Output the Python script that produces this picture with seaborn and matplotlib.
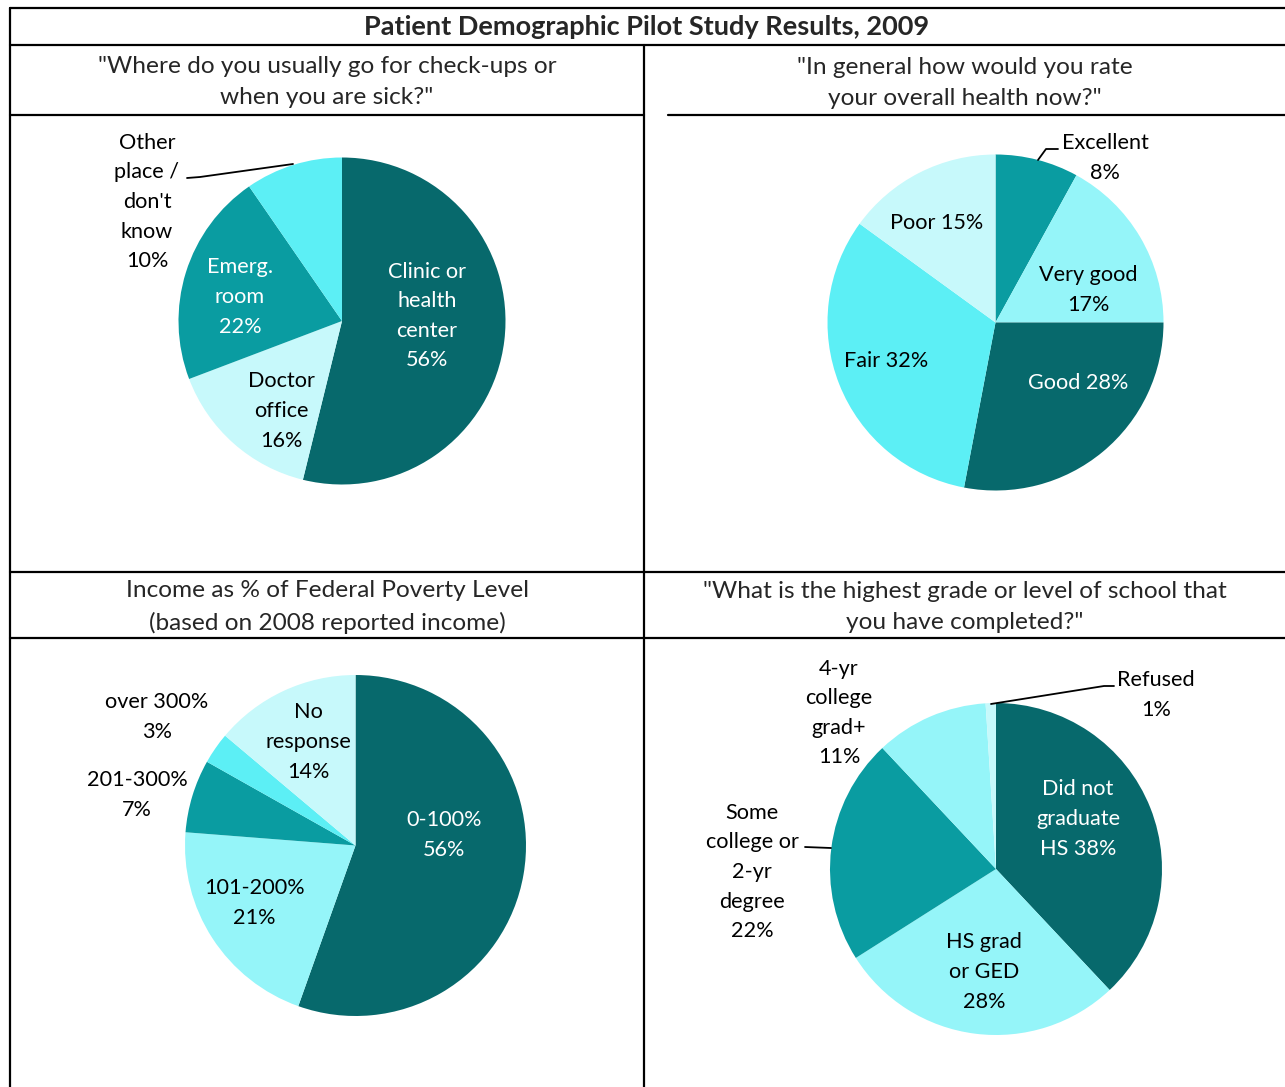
import matplotlib
matplotlib.use("Agg")
import matplotlib.pyplot as plt
from matplotlib.lines import Line2D
import seaborn as sns

sns.set_theme(style="white")
plt.rcParams['font.family'] = ['Lato', 'DejaVu Sans']

# ---------------- data ----------------
title = "Patient Demographic Pilot Study Results, 2009"

q1_title = "\"Where do you usually go for check-ups or\nwhen you are sick?\""
q1_labels = ["Clinic or\nhealth\ncenter\n56%", "Doctor\noffice\n16%", "Emerg.\nroom\n22%",
             "Other\nplace /\ndon't\nknow\n10%"]
q1_values = [56, 16, 22, 10]

q2_title = "\"In general how would you rate\nyour overall health now?\""
q2_labels = ["Excellent\n8%", "Very good\n17%", "Good 28%", "Fair 32%", "Poor 15%"]
q2_values = [8, 17, 28, 32, 15]

q3_title = "Income as % of Federal Poverty Level\n(based on 2008 reported income)"
q3_labels = ["0-100%\n56%", "101-200%\n21%", "201-300%\n7%", "over 300%\n3%", "No\nresponse\n14%"]
q3_values = [56, 21, 7, 3, 14]

q4_title = "\"What is the highest grade or level of school that\nyou have completed?\""
q4_labels = ["Did not\ngraduate\nHS 38%", "HS grad\nor GED\n28%", "Some\ncollege or\n2-yr\ndegree\n22%",
             "4-yr\ncollege\ngrad+\n11%", "Refused\n1%"]
q4_values = [38, 28, 22, 11, 1]

# ---------------- styles ----------------
DARK = "#07696C"
MED = "#0A9CA1"
CYAN = "#5CEFF5"
LIGHT = "#95F5F9"
PALE = "#C7F9FB"

W, H = 1285, 1087
fig = plt.figure(figsize=(W / 100, H / 100), dpi=100)
fig.patch.set_facecolor("white")


def fx(x):
    return x / W


def fy(y):
    return 1 - y / H


def hline(y, x0, x1, lw=1.6):
    fig.add_artist(Line2D([fx(x0), fx(x1)], [fy(y), fy(y)], color="black", lw=lw))


def vline(x, y0, y1, lw=1.6):
    fig.add_artist(Line2D([fx(x), fx(x)], [fy(y0), fy(y1)], color="black", lw=lw))


def poly(pts, lw=1.3):
    fig.add_artist(Line2D([fx(p[0]) for p in pts], [fy(p[1]) for p in pts], color="black", lw=lw))


def pie(cx, cy, r, values, colors):
    ax = fig.add_axes([fx(cx - r), fy(cy + r), 2 * r / W, 2 * r / H])
    ax.pie(values, colors=colors, startangle=90, counterclock=False, radius=1,
           wedgeprops=dict(linewidth=0))
    ax.set_xlim(-1, 1)
    ax.set_ylim(-1, 1)
    ax.axis("off")
    return ax


LS = 15.6


def label(x, y, s, color="black", size=LS):
    fig.text(fx(x), fy(y + 2), s, ha="center", va="center", color=color, fontsize=size,
             linespacing=1.6)


# table grid
hline(8, 10, 1285)
hline(45, 10, 1285)
hline(115, 10, 644)
hline(115, 668, 1285)
hline(572, 10, 1285)
hline(638, 10, 1285)
vline(10, 8, 1087)
vline(644, 45, 1087)

# titles
fig.text(fx(647), fy(27), title, ha="center", va="center", fontsize=19.5, fontweight="bold")
HS = 17.6
HL = 1.58
fig.text(fx(327), fy(82), q1_title, ha="center", va="center", fontsize=HS, linespacing=HL)
fig.text(fx(965), fy(83), q2_title, ha="center", va="center", fontsize=HS, linespacing=HL)
fig.text(fx(327), fy(607), q3_title, ha="center", va="center", fontsize=HS, linespacing=HL)
fig.text(fx(965), fy(607), q4_title, ha="center", va="center", fontsize=HS, linespacing=HL)

# chart 1
pie(342, 321, 163.5, q1_values, [DARK, PALE, MED, CYAN])
label(427, 314, q1_labels[0], "white")
label(281, 409, q1_labels[1])
label(240, 295, q1_labels[2], "white")
label(147, 200, q1_labels[3])
poly([(187, 178), (200, 177), (293, 164)])

# chart 2
pie(995.5, 322.5, 168, q2_values, [MED, LIGHT, DARK, CYAN, PALE])
label(1105, 156, q2_labels[0])
poly([(1038, 160), (1046, 149), (1058, 149)])
label(1088, 288, q2_labels[1])
label(1078, 381, q2_labels[2], "white")
label(886, 359, q2_labels[3])
label(937, 221, q2_labels[4])

# chart 3
pie(355.5, 845.5, 170.5, q3_values, [DARK, LIGHT, MED, CYAN, PALE])
label(444, 833, q3_labels[0], "white")
label(254, 901, q3_labels[1])
label(137, 793, q3_labels[2])
label(157, 715, q3_labels[3])
label(308, 740, q3_labels[4])

# chart 4
pie(996, 869, 166, q4_values, [DARK, LIGHT, MED, LIGHT, PALE])
label(1078, 817, q4_labels[0], "white")
label(984, 970, q4_labels[1])
label(752, 870, q4_labels[2])
poly([(805, 847), (831, 848)])
label(839, 711, q4_labels[3])
label(1156, 693, q4_labels[4])
poly([(991, 704), (1104, 686), (1114, 686)])

fig.savefig("out.png", dpi=100, facecolor="white")
